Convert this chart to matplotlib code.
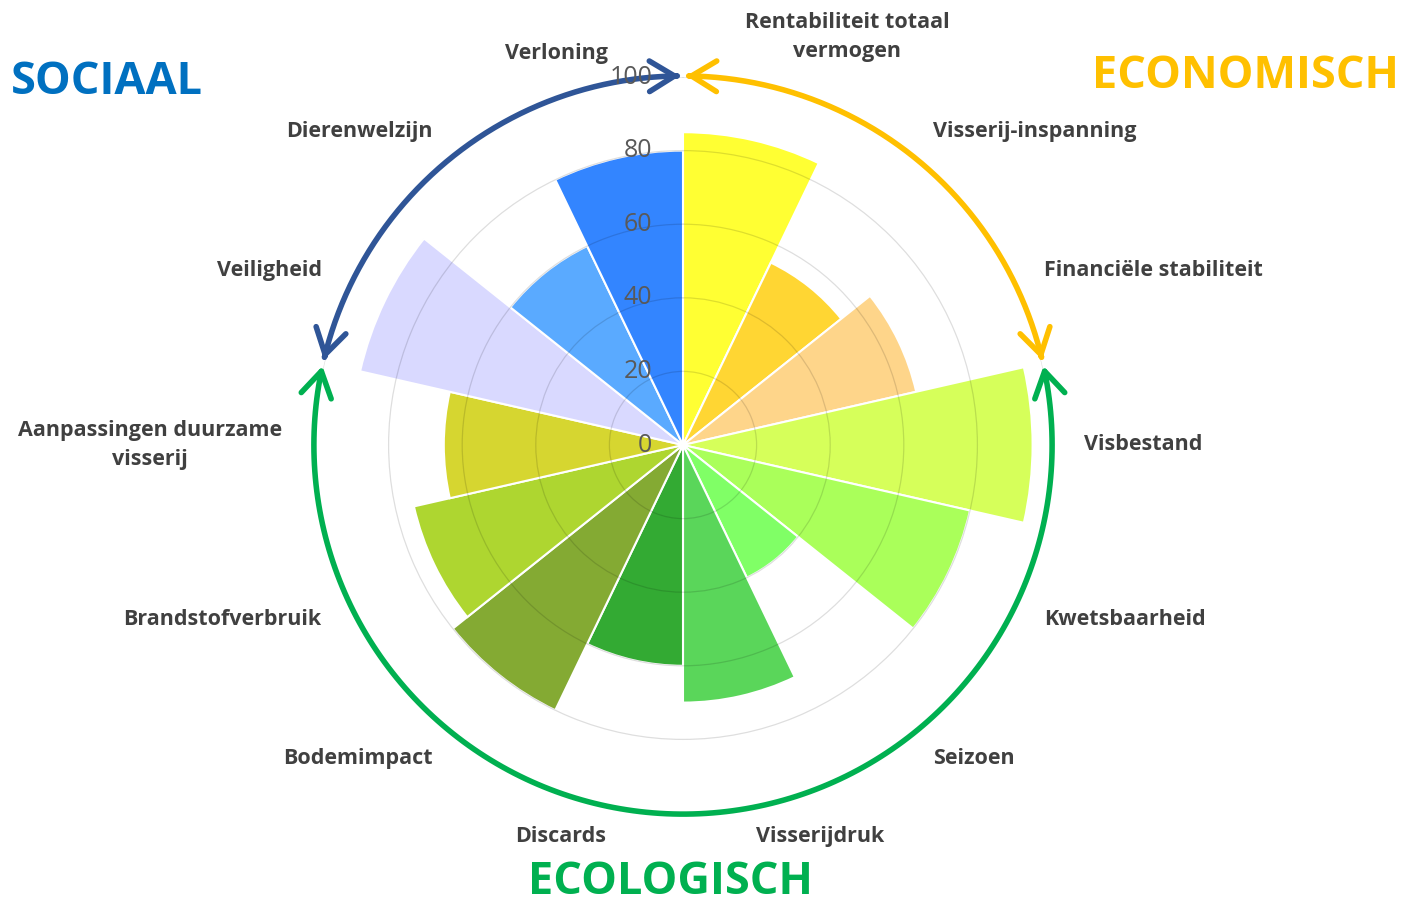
import matplotlib
matplotlib.use("Agg")
import matplotlib.pyplot as plt
import numpy as np
from matplotlib.patches import FancyArrowPatch
from matplotlib.path import Path
from matplotlib.transforms import offset_copy

plt.rcParams["font.family"] = ["Open Sans", "DejaVu Sans"]

# ---- data ----
categories = [
    "Rentabiliteit totaal\nvermogen", "Visserij-inspanning", "Financiële stabiliteit",
    "Visbestand", "Kwetsbaarheid", "Seizoen", "Visserijdruk", "Discards",
    "Bodemimpact", "Brandstofverbruik", "Aanpassingen duurzame\nvisserij",
    "Veiligheid", "Dierenwelzijn", "Verloning",
]
values = [85, 55, 65, 95, 80, 40, 70, 60, 80, 75, 65, 90, 60, 80]
colors = [
    "#FFFF33", "#FFD633", "#FED58A", "#D6FF5A", "#AAFF5A", "#80FF66", "#5AD65A",
    "#33AA33", "#84AA33", "#AED630", "#D6D630", "#D9D9FF", "#5AAAFF", "#3385FF",
]
r_ticks = [0, 20, 40, 60, 80, 100]

# pillars: first category index, number of categories, colours
pillar_names = ["ECONOMISCH", "ECOLOGISCH", "SOCIAAL"]
pillar_start = [0, 3, 11]
pillar_count = [3, 8, 3]
pillar_colors = ["#FFC000", "#00B050", "#2F5597"]
pillar_text_colors = ["#FFC000", "#00B050", "#0070C0"]

# small horizontal nudges (points) for labels close to the vertical axis
label_dx = {6: -12, 7: 9, 13: 10}

W, H = 1404, 907
fig = plt.figure(figsize=(W / 100, H / 100), dpi=100)
cx, cy, R = 683, 445, 368
ax = fig.add_axes([(cx - R) / W, (H - cy - R) / H, 2 * R / W, 2 * R / H],
                  projection="polar")
ax.set_theta_zero_location("N")
ax.set_theta_direction(-1)

n = len(categories)
width = 2 * np.pi / n
theta = np.arange(n) * width + width / 2
ax.bar(theta, values, width=width, color=colors, edgecolor="white",
       linewidth=1.5, zorder=2)

ax.set_ylim(0, 100)
ax.set_xticks([])
ax.set_yticks([20, 40, 60, 80, 100])
ax.set_yticklabels([])
ax.yaxis.grid(True, color="#000000", alpha=0.13, linewidth=0.9)
ax.set_axisbelow(False)
ax.spines["polar"].set_visible(False)

# radial value labels along the top axis
tr = offset_copy(ax.transData, fig=fig, x=-22, y=0, units="points")
for v in r_ticks:
    ax.text(0, v, str(v), transform=tr, ha="right", va="center",
            fontsize=18, color="#595959", zorder=6, clip_on=False)

# category labels
lab_kw = dict(va="center", multialignment="center", fontsize=15.5, linespacing=1.45,
              fontweight="bold", color="#404040", clip_on=False)
for i, lab in enumerate(categories):
    t = theta[i]
    if i == 0:
        ax.text(np.deg2rad(21.9), 119.5, lab, ha="center", **lab_kw)
        continue
    ha = "left" if np.sin(t) > 0 else "right"
    trl = offset_copy(ax.transData, fig=fig, x=label_dx.get(i, 0), y=0, units="points")
    ax.text(t, 109, lab, ha=ha, transform=trl, **lab_kw)

# pillar arrows on the outer ring
gap = np.deg2rad(0.5)
for s, c, col in zip(pillar_start, pillar_count, pillar_colors):
    t0 = s * width + gap
    t1 = (s + c) * width - gap
    tt = np.linspace(t0, t1, 200)
    path = Path(np.column_stack([tt, np.full_like(tt, 100.3)]))
    arr = FancyArrowPatch(path=path, arrowstyle="<->,head_length=0.9,head_width=0.55",
                          mutation_scale=20, color=col, linewidth=4,
                          shrinkA=0, shrinkB=0, capstyle="round", joinstyle="round",
                          transform=ax.transData, clip_on=False, zorder=5)
    ax.add_patch(arr)

# pillar titles
title_kw = dict(fontsize=32.5, fontweight="bold", ha="center", va="center")
fig.text(107 / W, 1 - 83 / H, pillar_names[2], color=pillar_text_colors[2], **title_kw)
fig.text(1245 / W, 1 - 76 / H, pillar_names[0], color=pillar_text_colors[0], **title_kw)
fig.text(670 / W, 1 - 883 / H, pillar_names[1], color=pillar_text_colors[1], **title_kw)

fig.savefig("out.png", dpi=100)
